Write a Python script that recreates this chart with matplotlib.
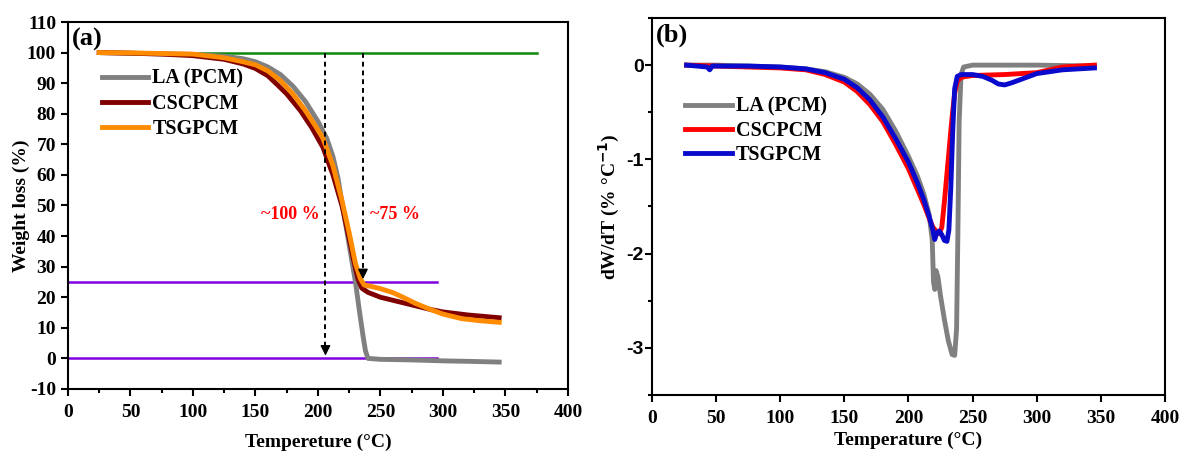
import numpy as np
import matplotlib
matplotlib.use('Agg')
import matplotlib.pyplot as plt
from matplotlib.ticker import MultipleLocator

plt.rcParams['font.family'] = 'Liberation Serif'
plt.rcParams['font.weight'] = 'bold'
plt.rcParams['axes.labelweight'] = 'bold'
plt.rcParams['axes.unicode_minus'] = False
plt.rcParams['mathtext.default'] = 'bf'

# (a) TGA curves
la_t = [25, 50, 75, 100, 125, 140, 150, 160, 170, 180, 190, 200, 207, 212, 216, 220, 225, 230, 233, 236, 238, 240, 250, 275, 300, 325, 345]
la_w = [100, 99.8, 99.6, 99.4, 98.8, 98, 97, 95.3, 92.8, 89, 84, 77.5, 72, 66, 59, 49, 37, 25, 16, 7.5, 2.5, 0, -0.3, -0.5, -0.8, -1, -1.2]

cs_t = [25, 50, 75, 100, 125, 140, 150, 160, 168, 175, 186, 195, 204, 212, 219.5, 225, 228.6, 232, 235, 240, 250, 260, 270, 280, 290, 300, 320, 345]
cs_w = [100, 99.8, 99.5, 99, 97.8, 96.3, 94.8, 92.4, 89.3, 86.5, 81, 75.5, 69, 60, 49.5, 39, 32, 26, 23, 21.6, 20, 19, 18, 17, 16, 15.2, 14.2, 13.3]

ts_t = [25, 50, 75, 100, 125, 140, 150, 160, 170, 180, 190, 198, 204, 212, 219, 225, 230, 234, 237, 243, 250, 260, 268, 278, 290, 300, 315, 330, 345]
ts_w = [100, 99.9, 99.7, 99.5, 98.3, 97, 96, 94, 90.8, 86.5, 81, 76, 72, 63, 52, 41, 31, 26, 24, 23.5, 22.8, 21.5, 20, 18, 16, 14.5, 13, 12.3, 11.8]

# (b) DTG curves
la_dt = [27, 50, 75, 100, 120, 135, 150, 160, 170, 180, 190, 200, 207, 212, 216, 218.5, 219.5, 220.5, 221.5, 223, 225, 228, 231, 234, 236, 237.5, 238.5, 239.5, 241, 243, 250, 300, 345]
la_dw = [0, 0, -0.01, -0.02, -0.04, -0.07, -0.13, -0.2, -0.31, -0.47, -0.7, -0.97, -1.18, -1.37, -1.58, -1.85, -2.3, -2.38, -2.18, -2.25, -2.45, -2.7, -2.92, -3.07, -3.08, -2.8, -1.8, -0.6, -0.1, -0.02, 0, 0, -0.01]

cs_dt = [27, 50, 75, 100, 120, 135, 150, 160, 170, 180, 190, 200, 207, 212, 216, 219, 222, 224, 226, 228, 230, 232, 234, 236, 238, 241, 245, 250, 275, 300, 320, 345]
cs_dw = [0, -0.01, -0.02, -0.03, -0.05, -0.1, -0.18, -0.28, -0.42, -0.6, -0.84, -1.1, -1.32, -1.48, -1.62, -1.72, -1.77, -1.79, -1.72, -1.45, -1.15, -0.85, -0.55, -0.3, -0.17, -0.13, -0.12, -0.11, -0.1, -0.08, -0.02, 0]

ts_dt = [27, 43, 45, 47, 75, 100, 120, 135, 150, 160, 170, 180, 190, 200, 207, 212, 216, 219, 220.5, 222, 224, 226, 228, 230, 231.5, 233, 234.5, 236, 238, 241, 250, 258, 265, 270, 275, 280, 290, 300, 320, 345]
ts_dw = [0, -0.02, -0.05, -0.01, -0.01, -0.02, -0.04, -0.08, -0.15, -0.24, -0.37, -0.55, -0.78, -1.03, -1.25, -1.43, -1.6, -1.75, -1.85, -1.78, -1.76, -1.8, -1.86, -1.87, -1.75, -1.3, -0.7, -0.25, -0.12, -0.1, -0.1, -0.12, -0.16, -0.2, -0.21, -0.19, -0.14, -0.09, -0.05, -0.03]

fig = plt.figure(figsize=(11.82, 4.51), dpi=100)
ax1 = fig.add_axes([0.0575, 0.1375, 0.4230, 0.8137])
ax2 = fig.add_axes([0.5516, 0.1242, 0.4340, 0.8359])

lw = 3.5
fs = 14

# ---- panel (a)
ax1.plot([100, 375], [100, 100], color='#0a8a0a', lw=1.8, zorder=2)
ax1.plot([0, 295], [25, 25], color='#8000e0', lw=1.8, zorder=2)
ax1.plot([0, 295], [0, 0], color='#8000e0', lw=1.8, zorder=2)
ax1.plot(la_t, la_w, color='#808080', lw=lw, label='LA (PCM)', zorder=3)
ax1.plot(cs_t, cs_w, color='#800000', lw=lw, label='CSCPCM', zorder=4)
ax1.plot(ts_t, ts_w, color='#ff8c00', lw=lw, label='TSGPCM', zorder=5)

# dashed arrows
for x, y0 in [(206, 0), (236, 25)]:
    ax1.plot([x, x], [100, y0 + 3], color='k', lw=1.4, ls=(0, (2.5, 2)), zorder=6)
    ax1.annotate('', xy=(x, y0), xytext=(x, y0 + 5),
                 arrowprops=dict(arrowstyle='-|>', color='k', lw=1.0,
                                 mutation_scale=15), zorder=6)

ax1.text(178, 47, '~100 %', color='red', fontsize=13, ha='center', va='center', fontweight='bold')
ax1.text(262, 47, '~75 %', color='red', fontsize=13, ha='center', va='center', fontweight='bold')
ax1.text(0.008, 0.985, '(a)', transform=ax1.transAxes, fontsize=19, fontweight='bold', va='top', ha='left')

ax1.set_xlim(0, 400)
ax1.set_ylim(-10, 110)
ax1.xaxis.set_major_locator(MultipleLocator(50))
ax1.xaxis.set_minor_locator(MultipleLocator(25))
ax1.yaxis.set_major_locator(MultipleLocator(10))
ax1.set_xlabel('Tempereture (°C)', fontsize=fs, labelpad=9)
ax1.set_ylabel('Weight loss (%)', fontsize=fs, labelpad=-2)
ax1.legend(loc='upper left', bbox_to_anchor=(0.052, 0.895), frameon=False, fontsize=14.5,
           handlelength=2.3, handletextpad=0.2, labelspacing=0.25, borderaxespad=0)

# ---- panel (b)
ax2.plot(la_dt, la_dw, color='#808080', lw=lw, label='LA (PCM)', zorder=3)
ax2.plot(cs_dt, cs_dw, color='#ff0000', lw=lw, label='CSCPCM', zorder=4)
ax2.plot(ts_dt, ts_dw, color='#0a0acc', lw=lw, label='TSGPCM', zorder=5)
ax2.text(0.008, 0.985, '(b)', transform=ax2.transAxes, fontsize=19, fontweight='bold', va='top', ha='left')

ax2.set_xlim(0, 400)
ax2.set_ylim(-3.5, 0.5)
ax2.xaxis.set_major_locator(MultipleLocator(50))
ax2.yaxis.set_major_locator(MultipleLocator(1))
ax2.yaxis.set_minor_locator(MultipleLocator(0.5))
ax2.set_xlabel('Temperature (°C)', fontsize=fs, labelpad=3)
ax2.set_ylabel('dW/dT (% °C$^{-1}$)', fontsize=fs, labelpad=3)
ax2.legend(loc='upper left', bbox_to_anchor=(0.049, 0.812), frameon=False, fontsize=14.5,
           handlelength=2.3, handletextpad=0.2, labelspacing=0.2, borderaxespad=0)

for ax in (ax1, ax2):
    for s in ax.spines.values():
        s.set_linewidth(1.5)
    ax.tick_params(which='both', direction='out', width=1.5, top=False, right=False)
    ax.tick_params(which='major', length=5, labelsize=fs)
    ax.tick_params(which='minor', length=3)
    ax.tick_params(axis='x', which='major', pad=6)
    for lab in ax.get_xticklabels() + ax.get_yticklabels():
        lab.set_fontweight('bold')

ax2.tick_params(axis='y', which='major', pad=1)
for lab in ax2.get_yticklabels():
    lab.set_family('Liberation Sans')

fig.savefig('out.png', dpi=100, facecolor='white')
